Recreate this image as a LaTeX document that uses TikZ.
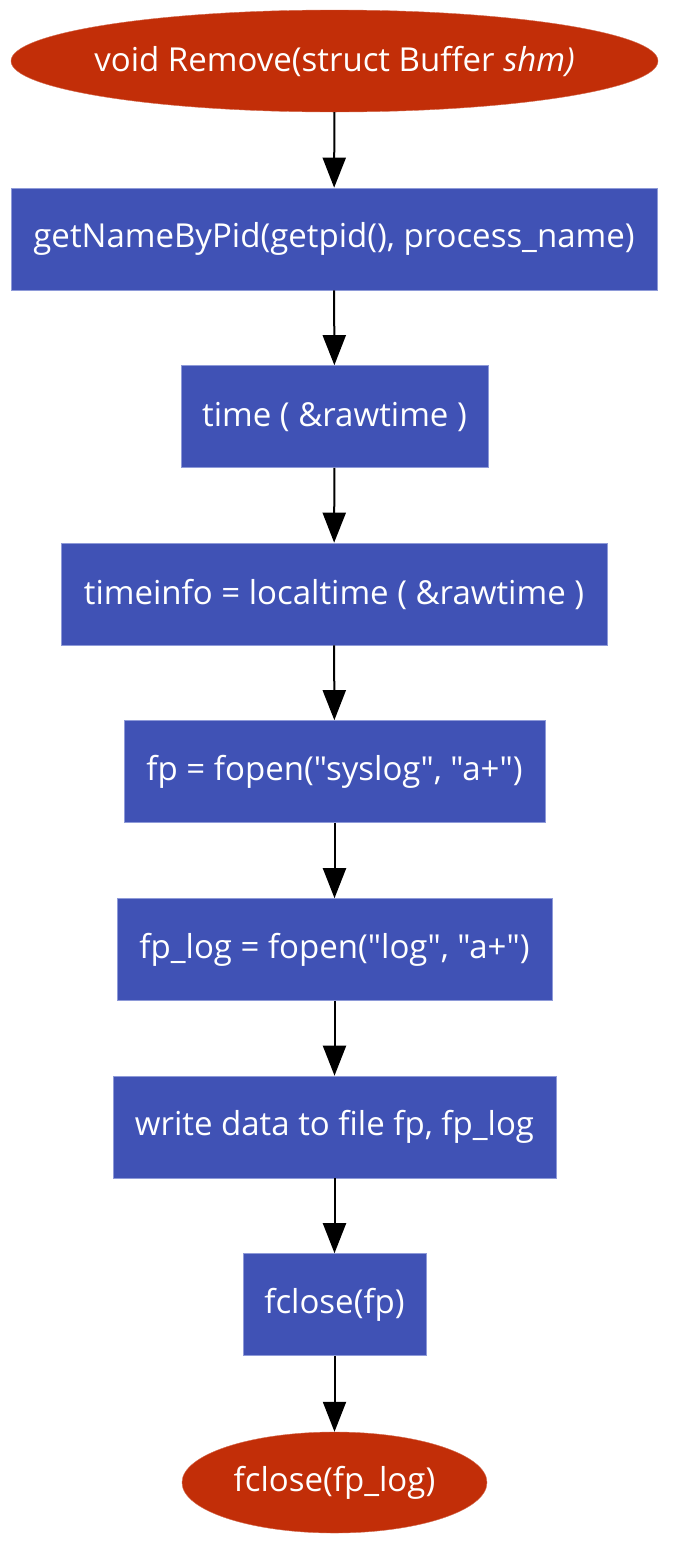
\documentclass[tikz,border=0pt]{standalone}
\usepackage{fontspec}
\setmainfont[Ligatures=TeXReset]{Open Sans}
\usetikzlibrary{shapes.geometric,arrows.meta}
\definecolor{startred}{HTML}{C22E08}
\definecolor{stepblue}{HTML}{4052B5}
\definecolor{stepedge}{HTML}{8E9AD8}
\begin{document}
\begin{tikzpicture}[x=1pt,y=-1pt,
  every node/.style={inner sep=0pt},
  txt/.style={text=white,font=\fontsize{33}{40}\selectfont},
  terminal/.style={ellipse,fill=startred,draw=startred!70!white,line width=0.4pt},
  stepbox/.style={rectangle,txt,fill=stepblue,draw=stepedge,line width=0.6pt,minimum height=102pt},
  flow/.style={draw=black,line width=2pt,-{Triangle[length=30pt,width=23pt]}}]
\useasboundingbox (0,0) rectangle (683,1558);
\node[terminal,minimum width=647pt,minimum height=102pt,
  label={[txt]center:void Remove(struct Buffer \textit{shm)}}] (start) at (334.5,61) {};
\node[stepbox,minimum width=646pt] (pid) at (334,239) {getNameByPid(getpid(), process\_name)};
\node[stepbox,minimum width=307pt] (time) at (334.5,416.5) {time ( \&rawtime )};
\node[stepbox,minimum width=546pt] (local) at (334,594) {timeinfo = localtime ( \&rawtime )};
\node[stepbox,minimum width=421pt] (fp) at (334.5,771.5) {fp = fopen("syslog", "a+")};
\node[stepbox,minimum width=435pt] (fplog) at (334.5,949.5) {fp\_log = fopen("log", "a+")};
\node[stepbox,minimum width=443pt] (write) at (334.5,1127) {write data to file fp, fp\_log};
\node[stepbox,minimum width=183pt] (close) at (334.5,1304.5) {fclose(fp)};
\node[terminal,minimum width=305pt,minimum height=101pt,
  label={[txt]center:fclose(fp\_log)}] (end) at (334.5,1482.5) {};
\foreach \a/\b in {start/pid,pid/time,time/local,local/fp,fp/fplog,fplog/write,write/close,close/end}
  \draw[flow] (\a) -- (\b);
\end{tikzpicture}
\end{document}
